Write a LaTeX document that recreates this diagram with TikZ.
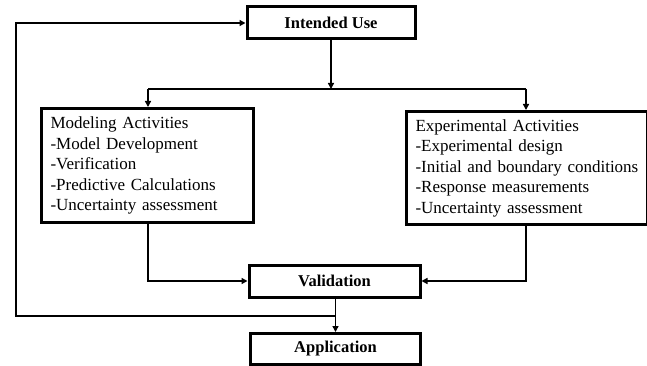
\documentclass[tikz,border=0pt]{standalone}
\usepackage{fontspec}
\setmainfont{Liberation Serif}
\usetikzlibrary{arrows.meta}
\begin{document}
\begin{tikzpicture}[x=1pt,y=-1pt,
  box/.style={draw,line width=3pt,inner sep=0pt,font=\fontsize{16.5}{20}\selectfont\bfseries},
  listbox/.style={draw,line width=3pt,inner xsep=9pt,inner ysep=0pt,anchor=north west,align=left,font=\fontsize{17}{20.5}\selectfont},
  conn/.style={line width=1.4pt},
  arr/.style={conn,-{Triangle[length=6pt,width=6pt]}}]
\useasboundingbox (0,0) rectangle (647,366);
\node[box,minimum width=168pt,minimum height=32pt] (iu) at (331,23) {Intended Use};
\node[listbox,minimum height=114pt,text width=194pt] (mod) at (40,107) {Modeling Activities\\-Model Development\\-Verification\\-Predictive Calculations\\-Uncertainty assessment};
\node[listbox,minimum height=113pt,text width=223pt] (exp) at (405,110) {Experimental Activities\\-Experimental design\\-Initial and boundary conditions\\-Response measurements\\-Uncertainty assessment};
\node[box,minimum width=171pt,minimum height=32pt] (val) at (334.5,281) {Validation};
\node[box,minimum width=170pt,minimum height=31pt] (app) at (335.5,349) {Application};
\coordinate (j) at (331,89);
\coordinate (jl) at (148,89);
\coordinate (jr) at (526,89);
\coordinate (f) at (335.5,316);
\coordinate (fl) at (16,316);
\coordinate (ft) at (16,23);
\draw[arr] (iu.south) -- (j);
\draw[conn] (jl) -- (jr);
\draw[arr] (jl) -- (jl |- mod.north);
\draw[arr] (jr) -- (jr |- exp.north);
\draw[arr] (jl |- mod.south) |- (val.west);
\draw[arr] (jr |- exp.south) |- (val.east);
\draw[arr] (val.south -| f) -- (app.north -| f);
\draw[arr] (f) -- (fl) -- (ft) -- (iu.west);
\end{tikzpicture}
\end{document}
